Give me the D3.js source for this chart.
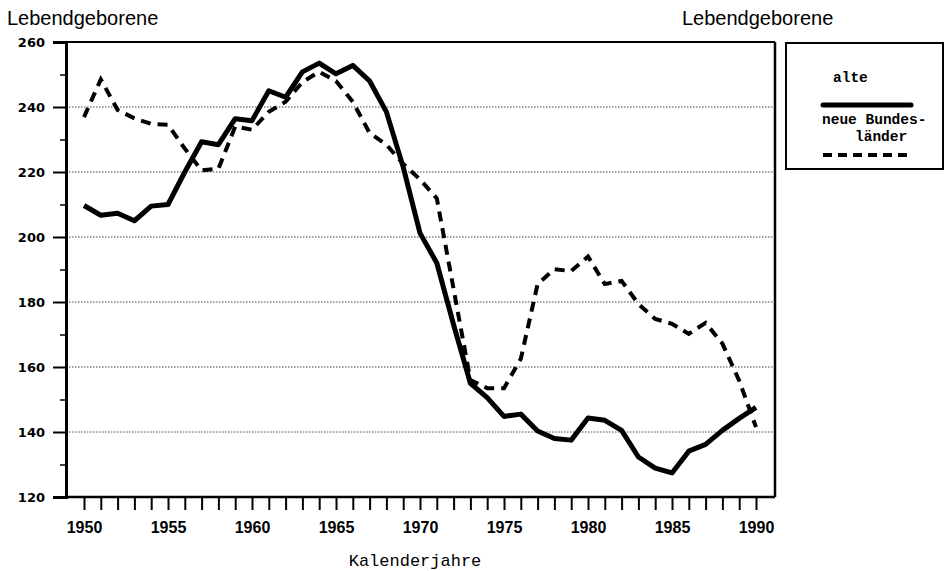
<!DOCTYPE html>
<html>
<head>
<meta charset="utf-8">
<script src="https://cdn.jsdelivr.net/npm/d3@7"></script>
<style>
  body { margin: 0; background: #fff; }
  svg { display: block; }
  .ytick text { font-family: "DejaVu Sans", sans-serif; font-weight: bold; font-size: 13px; }
  .xtick text { font-family: "Liberation Sans", Arial, sans-serif; font-weight: bold; font-size: 16px; }
  .title { font-family: "Liberation Sans", Arial, sans-serif; font-size: 20px; }
  .mono { font-family: "Liberation Mono", "Courier New", monospace; font-size: 17px; }
  .legend text { font-family: "Liberation Mono", "Courier New", monospace; font-size: 14.5px; font-weight: bold; }
</style>
</head>
<body>
<div id="chart"></div>
<script>
// Lebendgeborene in 1000, alte vs. neue Bundeslaender
var years = d3.range(1950, 1991)
var alte = [209.7, 206.7, 207.3, 205, 209.5, 210, 220, 229.3, 228.4, 236.4,
  235.8, 245, 243, 250.8, 253.5, 250.2, 252.8, 248, 238.5, 221.5,
  201.2, 192, 173, 155, 150.6, 144.8, 145.5, 140.3, 138, 137.5,
  144.3, 143.6, 140.5, 132.3, 128.9, 127.4, 134.1, 136.2, 140.5, 144.2, 147.6]
var neue = [236.9, 248.5, 239.1, 236.5, 234.8, 234.5, 227.2, 220.5, 221, 234,
  233, 238.5, 241.6, 247.7, 250.8, 248, 241.6, 232, 228.4, 222.5,
  217.7, 211.9, 184, 156, 153.5, 153.5, 162.5, 185.5, 190.1, 189.5,
  194, 185.5, 186.5, 179.4, 174.8, 173.3, 170.2, 173.6, 167.2, 155.8, 141.5]
var yTicks = [120, 140, 160, 180, 200, 220, 240, 260]
var yMinor = [130, 150, 170, 190, 210, 230, 250]
var xLabels = [1950, 1955, 1960, 1965, 1970, 1975, 1980, 1985, 1990]

var fullWidth = 950, fullHeight = 571
var margin = {top: 42, left: 66}
var width = 709, height = 455

var svg = d3.select('#chart').append('svg')
  .attr('width', fullWidth)
  .attr('height', fullHeight)

var g = svg.append('g')
  .attr('transform', 'translate(' + margin.left + ',' + margin.top + ')')

var x = d3.scaleLinear().domain([1950, 1990]).range([18, 690])
var y = d3.scaleLinear().domain([120, 260]).range([height, 0])

// dotted grid
g.selectAll('.grid').data(yTicks.filter(function(d) { return d > 120 && d < 260 }))
  .enter().append('line')
    .attr('class', 'grid')
    .attr('x1', 0).attr('x2', width)
    .attr('y1', function(d) { return y(d) }).attr('y2', function(d) { return y(d) })
    .attr('stroke', '#444').attr('stroke-width', 1)
    .attr('stroke-dasharray', '1.5,1.5')

// frame
g.append('line').attr('x1', 0).attr('x2', width).attr('y1', 0).attr('y2', 0)
  .attr('stroke', '#000').attr('stroke-width', 2)
g.append('line').attr('x1', width).attr('x2', width).attr('y1', 0).attr('y2', height)
  .attr('stroke', '#000').attr('stroke-width', 2.5)

// y axis
var yAxis = g.append('g').attr('class', 'ytick')
  .call(d3.axisLeft(y).tickValues(yTicks).tickSize(13).tickPadding(8))
yAxis.select('.domain').attr('stroke-width', 3)
yAxis.selectAll('.tick line').attr('stroke-width', 2)
yAxis.selectAll('text').attr('fill', '#000')

g.append('g')
  .call(d3.axisLeft(y).tickValues(yMinor).tickSize(6).tickFormat(''))
  .call(function(a) { a.select('.domain').remove() })
  .selectAll('.tick line').attr('stroke-width', 1.5)

// x axis
var xAxis = g.append('g').attr('class', 'xtick')
  .attr('transform', 'translate(0,' + height + ')')
  .call(d3.axisBottom(x).tickValues(years).tickSize(13).tickPadding(12)
    .tickFormat(function(d) { return xLabels.indexOf(d) >= 0 ? d : '' }))
xAxis.select('.domain').attr('d', 'M0,0H' + width).attr('stroke-width', 2.5)
xAxis.selectAll('.tick line').attr('stroke-width', 2)
xAxis.selectAll('text').attr('fill', '#000')

// lines
var line = d3.line()
  .x(function(d, i) { return x(years[i]) })
  .y(function(d) { return y(d) })

g.append('path').datum(neue)
  .attr('d', line)
  .attr('fill', 'none').attr('stroke', '#000')
  .attr('stroke-width', 4)
  .attr('stroke-dasharray', '10,7')

g.append('path').datum(alte)
  .attr('d', line)
  .attr('fill', 'none').attr('stroke', '#000')
  .attr('stroke-width', 5)
  .attr('stroke-linejoin', 'round')

// titles
svg.append('text').attr('class', 'title').attr('x', 7).attr('y', 25).text('Lebendgeborene')
svg.append('text').attr('class', 'title').attr('x', 682).attr('y', 25).text('Lebendgeborene')
svg.append('text').attr('class', 'mono').attr('x', 415).attr('y', 566)
  .attr('text-anchor', 'middle').text('Kalenderjahre')

// legend
var legend = svg.append('g').attr('class', 'legend')
legend.append('rect').attr('x', 786).attr('y', 43).attr('width', 157).attr('height', 126)
  .attr('fill', 'none').attr('stroke', '#000').attr('stroke-width', 2)
legend.append('text').attr('x', 833).attr('y', 82).text('alte')
legend.append('line').attr('x1', 823).attr('x2', 911).attr('y1', 105).attr('y2', 105)
  .attr('stroke', '#000').attr('stroke-width', 5).attr('stroke-linecap', 'round')
legend.append('text').attr('x', 822).attr('y', 124).text('neue Bundes-')
legend.append('text').attr('x', 855).attr('y', 141).text('länder')
legend.append('line').attr('x1', 823).attr('x2', 912).attr('y1', 155).attr('y2', 155)
  .attr('stroke', '#000').attr('stroke-width', 4).attr('stroke-dasharray', '9,6')
</script>
</body>
</html>
